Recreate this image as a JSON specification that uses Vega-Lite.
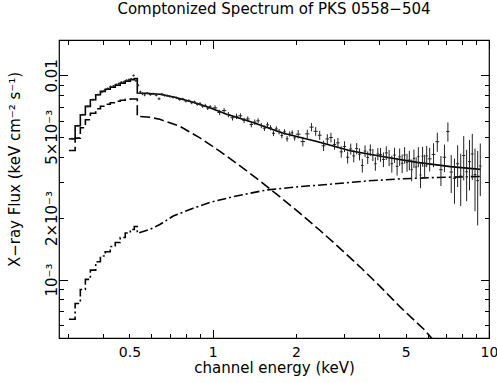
{
  "$schema": "https://vega.github.io/schema/vega-lite/v6.json",
  "width": 430,
  "height": 298,
  "autosize": {"type": "none"},
  "padding": {"left": 59, "top": 40, "right": 8, "bottom": 45},
  "title": {"text": "Comptonized Spectrum of PKS 0558−504", "font": "DejaVu Sans", "fontSize": 15, "fontWeight": "normal", "color": "black", "frame": "group", "anchor": "middle", "baseline": "alphabetic", "offset": 11},
  "config": {
    "view": {"stroke": "black", "strokeWidth": 1.2},
    "axis": {"domain": false, "grid": false, "labelFont": "DejaVu Sans", "titleFont": "DejaVu Sans", "labelFontSize": 14, "titleFontSize": 15, "labelColor": "black", "titleColor": "black", "titleFontWeight": "normal", "tickColor": "black", "tickWidth": 1}
  },
  "datasets": {
    "model": [
      {"comp": "total", "e": 0.302, "f": 0.00489}, {"comp": "total", "e": 0.318, "f": 0.00489}, {"comp": "total", "e": 0.318, "f": 0.00566}, {"comp": "total", "e": 0.3321, "f": 0.00566},
      {"comp": "total", "e": 0.3321, "f": 0.00641}, {"comp": "total", "e": 0.3463, "f": 0.00641}, {"comp": "total", "e": 0.3463, "f": 0.007045}, {"comp": "total", "e": 0.361, "f": 0.007045},
      {"comp": "total", "e": 0.361, "f": 0.0076}, {"comp": "total", "e": 0.3775, "f": 0.0076}, {"comp": "total", "e": 0.3775, "f": 0.00804}, {"comp": "total", "e": 0.3925, "f": 0.00804},
      {"comp": "total", "e": 0.3925, "f": 0.00835}, {"comp": "total", "e": 0.4086, "f": 0.00835}, {"comp": "total", "e": 0.4086, "f": 0.008556}, {"comp": "total", "e": 0.4261, "f": 0.008556},
      {"comp": "total", "e": 0.4261, "f": 0.008751}, {"comp": "total", "e": 0.4442, "f": 0.008751}, {"comp": "total", "e": 0.4442, "f": 0.008951}, {"comp": "total", "e": 0.463, "f": 0.008951},
      {"comp": "total", "e": 0.463, "f": 0.009156}, {"comp": "total", "e": 0.4828, "f": 0.009156}, {"comp": "total", "e": 0.4828, "f": 0.009365}, {"comp": "total", "e": 0.5035, "f": 0.009365},
      {"comp": "total", "e": 0.5035, "f": 0.009526}, {"comp": "total", "e": 0.5206, "f": 0.009526}, {"comp": "total", "e": 0.5206, "f": 0.009634}, {"comp": "total", "e": 0.5337, "f": 0.009634},
      {"comp": "total", "e": 0.5337, "f": 0.008195}, {"comp": "total", "e": 0.568, "f": 0.008176}, {"comp": "total", "e": 0.6439, "f": 0.008084}, {"comp": "total", "e": 0.7303, "f": 0.007816},
      {"comp": "total", "e": 0.8505, "f": 0.007385}, {"comp": "total", "e": 0.9777, "f": 0.006942}, {"comp": "total", "e": 1.124, "f": 0.006449}, {"comp": "total", "e": 1.365, "f": 0.005942},
      {"comp": "total", "e": 1.803, "f": 0.0052}, {"comp": "total", "e": 2.383, "f": 0.004742}, {"comp": "total", "e": 3.147, "f": 0.004269}, {"comp": "total", "e": 4.155, "f": 0.00399},
      {"comp": "total", "e": 5.492, "f": 0.003749}, {"comp": "total", "e": 7.252, "f": 0.003574}, {"comp": "total", "e": 9.316, "f": 0.003462},

      {"comp": "soft", "e": 0.302, "f": 0.004282}, {"comp": "soft", "e": 0.318, "f": 0.004282}, {"comp": "soft", "e": 0.318, "f": 0.004927}, {"comp": "soft", "e": 0.3321, "f": 0.004927},
      {"comp": "soft", "e": 0.3321, "f": 0.005537}, {"comp": "soft", "e": 0.3463, "f": 0.005537}, {"comp": "soft", "e": 0.3463, "f": 0.00606}, {"comp": "soft", "e": 0.361, "f": 0.00606},
      {"comp": "soft", "e": 0.361, "f": 0.006523}, {"comp": "soft", "e": 0.3775, "f": 0.006523}, {"comp": "soft", "e": 0.3775, "f": 0.006864}, {"comp": "soft", "e": 0.3925, "f": 0.006864},
      {"comp": "soft", "e": 0.3925, "f": 0.00706}, {"comp": "soft", "e": 0.4086, "f": 0.00706}, {"comp": "soft", "e": 0.4086, "f": 0.007221}, {"comp": "soft", "e": 0.4261, "f": 0.007221},
      {"comp": "soft", "e": 0.4261, "f": 0.007345}, {"comp": "soft", "e": 0.4442, "f": 0.007345}, {"comp": "soft", "e": 0.4442, "f": 0.00747}, {"comp": "soft", "e": 0.463, "f": 0.00747},
      {"comp": "soft", "e": 0.463, "f": 0.007555}, {"comp": "soft", "e": 0.4828, "f": 0.007555}, {"comp": "soft", "e": 0.4828, "f": 0.007641}, {"comp": "soft", "e": 0.5035, "f": 0.007641},
      {"comp": "soft", "e": 0.5035, "f": 0.007655}, {"comp": "soft", "e": 0.5337, "f": 0.007655}, {"comp": "soft", "e": 0.5337, "f": 0.006303}, {"comp": "soft", "e": 0.5925, "f": 0.006233},
      {"comp": "soft", "e": 0.6439, "f": 0.006095}, {"comp": "soft", "e": 0.761, "f": 0.00563}, {"comp": "soft", "e": 0.8994, "f": 0.004944}, {"comp": "soft", "e": 1.0628, "f": 0.004245},
      {"comp": "soft", "e": 1.2559, "f": 0.003603}, {"comp": "soft", "e": 1.4841, "f": 0.00304}, {"comp": "soft", "e": 1.7539, "f": 0.002538}, {"comp": "soft", "e": 2.0727, "f": 0.002106},
      {"comp": "soft", "e": 2.449, "f": 0.001738}, {"comp": "soft", "e": 2.894, "f": 0.001418}, {"comp": "soft", "e": 3.42, "f": 0.001151}, {"comp": "soft", "e": 4.042, "f": 0.000923},
      {"comp": "soft", "e": 4.777, "f": 0.000732}, {"comp": "soft", "e": 5.812, "f": 0.000571}, {"comp": "soft", "e": 6.868, "f": 0.00044},

      {"comp": "hard", "e": 0.302, "f": 0.000639}, {"comp": "hard", "e": 0.318, "f": 0.000639}, {"comp": "hard", "e": 0.318, "f": 0.0007634}, {"comp": "hard", "e": 0.3321, "f": 0.0007634},
      {"comp": "hard", "e": 0.3321, "f": 0.000894}, {"comp": "hard", "e": 0.3463, "f": 0.000894}, {"comp": "hard", "e": 0.3463, "f": 0.001001}, {"comp": "hard", "e": 0.361, "f": 0.001001},
      {"comp": "hard", "e": 0.361, "f": 0.001112}, {"comp": "hard", "e": 0.3775, "f": 0.001112}, {"comp": "hard", "e": 0.3775, "f": 0.001221}, {"comp": "hard", "e": 0.3925, "f": 0.001221},
      {"comp": "hard", "e": 0.3925, "f": 0.001303}, {"comp": "hard", "e": 0.4086, "f": 0.001303}, {"comp": "hard", "e": 0.4086, "f": 0.001368}, {"comp": "hard", "e": 0.4261, "f": 0.001368},
      {"comp": "hard", "e": 0.4261, "f": 0.00145}, {"comp": "hard", "e": 0.4442, "f": 0.00145}, {"comp": "hard", "e": 0.4442, "f": 0.001517}, {"comp": "hard", "e": 0.463, "f": 0.001517},
      {"comp": "hard", "e": 0.463, "f": 0.001605}, {"comp": "hard", "e": 0.4828, "f": 0.001605}, {"comp": "hard", "e": 0.4828, "f": 0.001689}, {"comp": "hard", "e": 0.5035, "f": 0.001689},
      {"comp": "hard", "e": 0.5035, "f": 0.001758}, {"comp": "hard", "e": 0.5206, "f": 0.001758}, {"comp": "hard", "e": 0.5206, "f": 0.001819}, {"comp": "hard", "e": 0.5337, "f": 0.001819},
      {"comp": "hard", "e": 0.5337, "f": 0.001683}, {"comp": "hard", "e": 0.5925, "f": 0.001758}, {"comp": "hard", "e": 0.6439, "f": 0.00186}, {"comp": "hard", "e": 0.72, "f": 0.002047},
      {"comp": "hard", "e": 0.8505, "f": 0.002234}, {"comp": "hard", "e": 0.9777, "f": 0.002385}, {"comp": "hard", "e": 1.188, "f": 0.002547}, {"comp": "hard", "e": 1.57, "f": 0.002747},
      {"comp": "hard", "e": 2.073, "f": 0.002851}, {"comp": "hard", "e": 2.737, "f": 0.002938}, {"comp": "hard", "e": 3.618, "f": 0.00304}, {"comp": "hard", "e": 4.777, "f": 0.003111},
      {"comp": "hard", "e": 6.306, "f": 0.003157}, {"comp": "hard", "e": 9.316, "f": 0.003199}
    ],
    "obs": [
      {"e": 0.31, "e1": 0.302, "e2": 0.318, "f": 0.00489, "f1": 0.00483, "f2": 0.00495},
      {"e": 0.325, "e1": 0.318, "e2": 0.3321, "f": 0.00566, "f1": 0.00559, "f2": 0.00573},
      {"e": 0.339, "e1": 0.3321, "e2": 0.3463, "f": 0.00641, "f1": 0.00633, "f2": 0.00649},
      {"e": 0.3537, "e1": 0.3463, "e2": 0.361, "f": 0.00705, "f1": 0.00696, "f2": 0.00714},
      {"e": 0.3693, "e1": 0.361, "e2": 0.3775, "f": 0.0076, "f1": 0.0075, "f2": 0.0077},
      {"e": 0.385, "e1": 0.3775, "e2": 0.3925, "f": 0.00804, "f1": 0.00794, "f2": 0.00814},
      {"e": 0.3975, "e1": 0.3925, "e2": 0.4025, "f": 0.0083, "f1": 0.00818, "f2": 0.00842},
      {"e": 0.4075, "e1": 0.4025, "e2": 0.4125, "f": 0.00845, "f1": 0.00833, "f2": 0.00857},
      {"e": 0.4175, "e1": 0.4125, "e2": 0.4225, "f": 0.00862, "f1": 0.0085, "f2": 0.00874},
      {"e": 0.4275, "e1": 0.4225, "e2": 0.4325, "f": 0.0088, "f1": 0.00868, "f2": 0.00892},
      {"e": 0.4375, "e1": 0.4325, "e2": 0.4425, "f": 0.00886, "f1": 0.00874, "f2": 0.00898},
      {"e": 0.4475, "e1": 0.4425, "e2": 0.4525, "f": 0.00902, "f1": 0.0089, "f2": 0.00914},
      {"e": 0.4575, "e1": 0.4525, "e2": 0.4625, "f": 0.0091, "f1": 0.00898, "f2": 0.00922},
      {"e": 0.4675, "e1": 0.4625, "e2": 0.4725, "f": 0.00925, "f1": 0.00913, "f2": 0.00937},
      {"e": 0.4775, "e1": 0.4725, "e2": 0.4825, "f": 0.0093, "f1": 0.00918, "f2": 0.00942},
      {"e": 0.4875, "e1": 0.4825, "e2": 0.4925, "f": 0.00945, "f1": 0.00933, "f2": 0.00957},
      {"e": 0.4975, "e1": 0.4925, "e2": 0.5025, "f": 0.00952, "f1": 0.0094, "f2": 0.00964},
      {"e": 0.5075, "e1": 0.5025, "e2": 0.5125, "f": 0.0096, "f1": 0.00948, "f2": 0.00972},
      {"e": 0.5175, "e1": 0.5125, "e2": 0.5225, "f": 0.00998, "f1": 0.00986, "f2": 0.0101},
      {"e": 0.5275, "e1": 0.5225, "e2": 0.5325, "f": 0.0094, "f1": 0.00928, "f2": 0.00952},
      {"e": 0.5375, "e1": 0.5325, "e2": 0.5425, "f": 0.00895, "f1": 0.00883, "f2": 0.00907},
      {"e": 0.5475, "e1": 0.5425, "e2": 0.5525, "f": 0.0083, "f1": 0.00818, "f2": 0.00842},
      {"e": 0.5575, "e1": 0.5525, "e2": 0.5625, "f": 0.00812, "f1": 0.008, "f2": 0.00824},
      {"e": 0.5675, "e1": 0.5625, "e2": 0.5725, "f": 0.00802, "f1": 0.0079, "f2": 0.00814},
      {"e": 0.58, "e1": 0.5725, "e2": 0.5875, "f": 0.00818, "f1": 0.00807, "f2": 0.00829},
      {"e": 0.595, "e1": 0.5875, "e2": 0.6025, "f": 0.00805, "f1": 0.00794, "f2": 0.00816},
      {"e": 0.61, "e1": 0.6025, "e2": 0.6175, "f": 0.00812, "f1": 0.00801, "f2": 0.00823},
      {"e": 0.625, "e1": 0.6175, "e2": 0.6325, "f": 0.008, "f1": 0.00789, "f2": 0.00811},
      {"e": 0.64, "e1": 0.6325, "e2": 0.6475, "f": 0.00768, "f1": 0.00757, "f2": 0.00779},
      {"e": 0.655, "e1": 0.6475, "e2": 0.6625, "f": 0.0081, "f1": 0.00799, "f2": 0.00821},
      {"e": 0.67, "e1": 0.6625, "e2": 0.6775, "f": 0.00798, "f1": 0.00787, "f2": 0.00809},
      {"e": 0.685, "e1": 0.6775, "e2": 0.6925, "f": 0.00795, "f1": 0.00784, "f2": 0.00806},
      {"e": 0.7, "e1": 0.6925, "e2": 0.71, "f": 0.00788, "f1": 0.00777, "f2": 0.00799},
      {"e": 0.72, "e1": 0.71, "e2": 0.73, "f": 0.00782, "f1": 0.00771, "f2": 0.00793},
      {"e": 0.74, "e1": 0.73, "e2": 0.75, "f": 0.00776, "f1": 0.00765, "f2": 0.00787},
      {"e": 0.76, "e1": 0.75, "e2": 0.77, "f": 0.00762, "f1": 0.00751, "f2": 0.00773},
      {"e": 0.78, "e1": 0.77, "e2": 0.79, "f": 0.00766, "f1": 0.00755, "f2": 0.00777},
      {"e": 0.8, "e1": 0.79, "e2": 0.81, "f": 0.00748, "f1": 0.00736, "f2": 0.0076},
      {"e": 0.82, "e1": 0.81, "e2": 0.83, "f": 0.00752, "f1": 0.0074, "f2": 0.00764},
      {"e": 0.84, "e1": 0.83, "e2": 0.85, "f": 0.00734, "f1": 0.00722, "f2": 0.00746},
      {"e": 0.86, "e1": 0.85, "e2": 0.87, "f": 0.0074, "f1": 0.00728, "f2": 0.00752},
      {"e": 0.88, "e1": 0.87, "e2": 0.89, "f": 0.00722, "f1": 0.0071, "f2": 0.00734},
      {"e": 0.9, "e1": 0.89, "e2": 0.91, "f": 0.00726, "f1": 0.00713, "f2": 0.00739},
      {"e": 0.92, "e1": 0.91, "e2": 0.93, "f": 0.00706, "f1": 0.00693, "f2": 0.00719},
      {"e": 0.94, "e1": 0.93, "e2": 0.95, "f": 0.00712, "f1": 0.00699, "f2": 0.00725},
      {"e": 0.96, "e1": 0.95, "e2": 0.97, "f": 0.0069, "f1": 0.00676, "f2": 0.00704},
      {"e": 0.98, "e1": 0.97, "e2": 0.99, "f": 0.00702, "f1": 0.00688, "f2": 0.00716},
      {"e": 1.02, "e1": 1.0, "e2": 1.04, "f": 0.00693, "f1": 0.00673, "f2": 0.00713},
      {"e": 1.06, "e1": 1.04, "e2": 1.08, "f": 0.00658, "f1": 0.00638, "f2": 0.00678},
      {"e": 1.1, "e1": 1.08, "e2": 1.12, "f": 0.00672, "f1": 0.00652, "f2": 0.00692},
      {"e": 1.14, "e1": 1.12, "e2": 1.16, "f": 0.00642, "f1": 0.00623, "f2": 0.00661},
      {"e": 1.18, "e1": 1.16, "e2": 1.2, "f": 0.0062, "f1": 0.00601, "f2": 0.00639},
      {"e": 1.22, "e1": 1.2, "e2": 1.24, "f": 0.0063, "f1": 0.00611, "f2": 0.00649},
      {"e": 1.26, "e1": 1.24, "e2": 1.28, "f": 0.00634, "f1": 0.00616, "f2": 0.00652},
      {"e": 1.3, "e1": 1.28, "e2": 1.32, "f": 0.00602, "f1": 0.00584, "f2": 0.0062},
      {"e": 1.34, "e1": 1.32, "e2": 1.36, "f": 0.00612, "f1": 0.00594, "f2": 0.0063},
      {"e": 1.38, "e1": 1.36, "e2": 1.4, "f": 0.00574, "f1": 0.00556, "f2": 0.00592},
      {"e": 1.42, "e1": 1.4, "e2": 1.44, "f": 0.0059, "f1": 0.00572, "f2": 0.00608},
      {"e": 1.46, "e1": 1.44, "e2": 1.48, "f": 0.00599, "f1": 0.00582, "f2": 0.00616},
      {"e": 1.5, "e1": 1.48, "e2": 1.52, "f": 0.00568, "f1": 0.00551, "f2": 0.00585},
      {"e": 1.54, "e1": 1.52, "e2": 1.56, "f": 0.00551, "f1": 0.00534, "f2": 0.00568},
      {"e": 1.58, "e1": 1.56, "e2": 1.6, "f": 0.00572, "f1": 0.00555, "f2": 0.00589},
      {"e": 1.62, "e1": 1.6, "e2": 1.64, "f": 0.00554, "f1": 0.00538, "f2": 0.0057},
      {"e": 1.66, "e1": 1.64, "e2": 1.68, "f": 0.0052, "f1": 0.00504, "f2": 0.00536},
      {"e": 1.7, "e1": 1.68, "e2": 1.72, "f": 0.00547, "f1": 0.00531, "f2": 0.00563},
      {"e": 1.74, "e1": 1.72, "e2": 1.76, "f": 0.0053, "f1": 0.00514, "f2": 0.00546},
      {"e": 1.78, "e1": 1.76, "e2": 1.8, "f": 0.00508, "f1": 0.00492, "f2": 0.00524},
      {"e": 1.82, "e1": 1.8, "e2": 1.84, "f": 0.00529, "f1": 0.00513, "f2": 0.00545},
      {"e": 1.86, "e1": 1.84, "e2": 1.88, "f": 0.00489, "f1": 0.00474, "f2": 0.00504},
      {"e": 1.9, "e1": 1.88, "e2": 1.92, "f": 0.00516, "f1": 0.00501, "f2": 0.00531},
      {"e": 1.94, "e1": 1.92, "e2": 1.96, "f": 0.00523, "f1": 0.00508, "f2": 0.00538},
      {"e": 1.98, "e1": 1.96, "e2": 2.0, "f": 0.00494, "f1": 0.00479, "f2": 0.00509},
      {"e": 2.04, "e1": 2.0, "e2": 2.08, "f": 0.00515, "f1": 0.0049, "f2": 0.0054},
      {"e": 2.12, "e1": 2.08, "e2": 2.16, "f": 0.00474, "f1": 0.00449, "f2": 0.00499},
      {"e": 2.2, "e1": 2.16, "e2": 2.24, "f": 0.00517, "f1": 0.00492, "f2": 0.00542},
      {"e": 2.28, "e1": 2.24, "e2": 2.32, "f": 0.00558, "f1": 0.00532, "f2": 0.00584},
      {"e": 2.36, "e1": 2.32, "e2": 2.4, "f": 0.00532, "f1": 0.00506, "f2": 0.00558},
      {"e": 2.44, "e1": 2.4, "e2": 2.48, "f": 0.00509, "f1": 0.00483, "f2": 0.00535},
      {"e": 2.52, "e1": 2.48, "e2": 2.56, "f": 0.00452, "f1": 0.00426, "f2": 0.00478},
      {"e": 2.6, "e1": 2.56, "e2": 2.64, "f": 0.00488, "f1": 0.00461, "f2": 0.00515},
      {"e": 2.68, "e1": 2.64, "e2": 2.72, "f": 0.00496, "f1": 0.00469, "f2": 0.00523},
      {"e": 2.76, "e1": 2.72, "e2": 2.8, "f": 0.00459, "f1": 0.00432, "f2": 0.00486},
      {"e": 2.84, "e1": 2.8, "e2": 2.88, "f": 0.00467, "f1": 0.0044, "f2": 0.00494},
      {"e": 2.92, "e1": 2.88, "e2": 2.96, "f": 0.00422, "f1": 0.00395, "f2": 0.00449},
      {"e": 3.0, "e1": 2.96, "e2": 3.04, "f": 0.00448, "f1": 0.00421, "f2": 0.00475},
      {"e": 3.08, "e1": 3.04, "e2": 3.12, "f": 0.00397, "f1": 0.0037, "f2": 0.00424},
      {"e": 3.16, "e1": 3.12, "e2": 3.2, "f": 0.00436, "f1": 0.00409, "f2": 0.00463},
      {"e": 3.24, "e1": 3.2, "e2": 3.28, "f": 0.00403, "f1": 0.00375, "f2": 0.00431},
      {"e": 3.32, "e1": 3.28, "e2": 3.36, "f": 0.00438, "f1": 0.0041, "f2": 0.00466},
      {"e": 3.4, "e1": 3.36, "e2": 3.44, "f": 0.00411, "f1": 0.00383, "f2": 0.00439},
      {"e": 3.48, "e1": 3.44, "e2": 3.52, "f": 0.00362, "f1": 0.00334, "f2": 0.0039},
      {"e": 3.56, "e1": 3.52, "e2": 3.6, "f": 0.00426, "f1": 0.00398, "f2": 0.00454},
      {"e": 3.64, "e1": 3.6, "e2": 3.68, "f": 0.00396, "f1": 0.00368, "f2": 0.00424},
      {"e": 3.72, "e1": 3.68, "e2": 3.76, "f": 0.00431, "f1": 0.00403, "f2": 0.00459},
      {"e": 3.8, "e1": 3.76, "e2": 3.84, "f": 0.00408, "f1": 0.0038, "f2": 0.00436},
      {"e": 3.88, "e1": 3.84, "e2": 3.92, "f": 0.00369, "f1": 0.00341, "f2": 0.00397},
      {"e": 3.96, "e1": 3.92, "e2": 4.0, "f": 0.00412, "f1": 0.00384, "f2": 0.0044},
      {"e": 4.05, "e1": 4.0, "e2": 4.1, "f": 0.00409, "f1": 0.00377, "f2": 0.00441},
      {"e": 4.15, "e1": 4.1, "e2": 4.2, "f": 0.00387, "f1": 0.00355, "f2": 0.00419},
      {"e": 4.25, "e1": 4.2, "e2": 4.3, "f": 0.00417, "f1": 0.00385, "f2": 0.00449},
      {"e": 4.35, "e1": 4.3, "e2": 4.4, "f": 0.00395, "f1": 0.00359, "f2": 0.00431},
      {"e": 4.45, "e1": 4.4, "e2": 4.5, "f": 0.00369, "f1": 0.00334, "f2": 0.00404},
      {"e": 4.55, "e1": 4.5, "e2": 4.6, "f": 0.00407, "f1": 0.00372, "f2": 0.00442},
      {"e": 4.65, "e1": 4.6, "e2": 4.7, "f": 0.00358, "f1": 0.00323, "f2": 0.00393},
      {"e": 4.75, "e1": 4.7, "e2": 4.8, "f": 0.00399, "f1": 0.0036, "f2": 0.00438},
      {"e": 4.85, "e1": 4.8, "e2": 4.9, "f": 0.00371, "f1": 0.00332, "f2": 0.0041},
      {"e": 4.95, "e1": 4.9, "e2": 5.0, "f": 0.00407, "f1": 0.00369, "f2": 0.00445},
      {"e": 5.05, "e1": 5.0, "e2": 5.1, "f": 0.00375, "f1": 0.00337, "f2": 0.00413},
      {"e": 5.15, "e1": 5.1, "e2": 5.2, "f": 0.00385, "f1": 0.00343, "f2": 0.00427},
      {"e": 5.25, "e1": 5.2, "e2": 5.3, "f": 0.00345, "f1": 0.00303, "f2": 0.00387},
      {"e": 5.35, "e1": 5.3, "e2": 5.4, "f": 0.00392, "f1": 0.00351, "f2": 0.00433},
      {"e": 5.45, "e1": 5.4, "e2": 5.5, "f": 0.00356, "f1": 0.00315, "f2": 0.00397},
      {"e": 5.55, "e1": 5.5, "e2": 5.6, "f": 0.004, "f1": 0.00355, "f2": 0.00445},
      {"e": 5.65, "e1": 5.6, "e2": 5.7, "f": 0.00325, "f1": 0.0028, "f2": 0.0037},
      {"e": 5.75, "e1": 5.7, "e2": 5.8, "f": 0.00402, "f1": 0.00357, "f2": 0.00447},
      {"e": 5.85, "e1": 5.8, "e2": 5.9, "f": 0.0036, "f1": 0.00312, "f2": 0.00408},
      {"e": 5.95, "e1": 5.9, "e2": 6.0, "f": 0.00403, "f1": 0.00355, "f2": 0.00451},
      {"e": 6.1, "e1": 6.0, "e2": 6.2, "f": 0.0039, "f1": 0.00338, "f2": 0.00442},
      {"e": 6.3, "e1": 6.2, "e2": 6.4, "f": 0.0041, "f1": 0.00355, "f2": 0.00465},
      {"e": 6.5, "e1": 6.4, "e2": 6.6, "f": 0.00473, "f1": 0.00422, "f2": 0.00524},
      {"e": 6.7, "e1": 6.6, "e2": 6.8, "f": 0.00345, "f1": 0.00287, "f2": 0.00403},
      {"e": 6.9, "e1": 6.8, "e2": 7.0, "f": 0.00397, "f1": 0.00336, "f2": 0.00458},
      {"e": 7.1, "e1": 7.0, "e2": 7.2, "f": 0.00531, "f1": 0.00474, "f2": 0.00588},
      {"e": 7.3, "e1": 7.2, "e2": 7.4, "f": 0.00336, "f1": 0.00265, "f2": 0.00407},
      {"e": 7.5, "e1": 7.4, "e2": 7.6, "f": 0.00313, "f1": 0.00235, "f2": 0.00391},
      {"e": 7.7, "e1": 7.6, "e2": 7.8, "f": 0.00369, "f1": 0.00284, "f2": 0.00454},
      {"e": 7.9, "e1": 7.8, "e2": 8.0, "f": 0.00321, "f1": 0.00229, "f2": 0.00413},
      {"e": 8.1, "e1": 8.0, "e2": 8.2, "f": 0.00405, "f1": 0.00306, "f2": 0.00504},
      {"e": 8.3, "e1": 8.2, "e2": 8.4, "f": 0.00337, "f1": 0.00242, "f2": 0.00432},
      {"e": 8.5, "e1": 8.4, "e2": 8.6, "f": 0.00378, "f1": 0.00273, "f2": 0.00483},
      {"e": 8.7, "e1": 8.6, "e2": 8.8, "f": 0.00412, "f1": 0.00307, "f2": 0.00517},
      {"e": 8.9, "e1": 8.8, "e2": 9.0, "f": 0.00327, "f1": 0.00216, "f2": 0.00438},
      {"e": 9.1, "e1": 9.0, "e2": 9.2, "f": 0.00305, "f1": 0.00184, "f2": 0.00426},
      {"e": 9.3, "e1": 9.2, "e2": 9.4, "f": 0.0036, "f1": 0.00256, "f2": 0.00464}
    ]
  },
  "layer": [
    {
      "data": {"name": "model"},
      "transform": [{"filter": "datum.comp === 'hard'"}],
      "mark": {"type": "line", "color": "black", "strokeWidth": 1.6, "strokeDash": [9, 3, 2, 3], "clip": true},
      "encoding": {
        "x": {"field": "e", "type": "quantitative", "scale": {"type": "log", "domain": [0.278, 10], "nice": false},
              "axis": {"orient": "bottom", "values": [0.5, 1, 2, 5, 10], "format": "~g", "ticks": false, "labelPadding": 7, "labelFlush": false, "labelOverlap": false, "title": "channel energy (keV)", "titleY": 34, "titleBaseline": "alphabetic"}},
        "y": {"field": "f", "type": "quantitative", "scale": {"type": "log", "domain": [0.000517, 0.0149], "nice": false},
              "axis": {"orient": "left", "values": [0.001, 0.002, 0.005, 0.01], "ticks": false, "labelExpr": "datum.value > 0.007 ? '0.01' : datum.value > 0.003 ? '5×10⁻³' : datum.value > 0.0015 ? '2×10⁻³' : '10⁻³'", "labelFontSize": 15, "labelAngle": -90, "labelAlign": "center", "labelBaseline": "alphabetic", "labelPadding": 3, "labelFlush": false, "labelOverlap": false, "title": "X−ray Flux (keV cm⁻² s⁻¹)", "titleX": -40, "titleY": 129, "titleAngle": -90, "titleAlign": "center", "titleBaseline": "alphabetic"}},
        "order": {"value": null}
      }
    },
    {
      "data": {"name": "model"},
      "transform": [{"filter": "datum.comp === 'soft'"}],
      "mark": {"type": "line", "color": "black", "strokeWidth": 1.6, "strokeDash": [10, 4], "clip": true},
      "encoding": {
        "x": {"field": "e", "type": "quantitative", "scale": {"type": "log", "domain": [0.278, 10], "nice": false},
              "axis": {"orient": "bottom", "values": [1, 10], "tickSize": -8.5, "labels": false, "title": null}},
        "y": {"field": "f", "type": "quantitative", "scale": {"type": "log", "domain": [0.000517, 0.0149], "nice": false},
              "axis": {"orient": "left", "values": [0.001, 0.01], "tickSize": -8.5, "labels": false, "title": null}},
        "order": {"value": null}
      }
    },
    {
      "data": {"name": "model"},
      "transform": [{"filter": "datum.comp === 'total'"}],
      "mark": {"type": "line", "color": "black", "strokeWidth": 1.6, "clip": true},
      "encoding": {
        "x": {"field": "e", "type": "quantitative", "scale": {"type": "log", "domain": [0.278, 10], "nice": false},
              "axis": {"orient": "bottom", "values": [0.3, 0.4, 0.5, 0.6, 0.7, 0.8, 0.9, 2, 3, 4, 5, 6, 7, 8, 9], "tickSize": -4.5, "labels": false, "title": null}},
        "y": {"field": "f", "type": "quantitative", "scale": {"type": "log", "domain": [0.000517, 0.0149], "nice": false},
              "axis": {"orient": "left", "values": [0.0006, 0.0007, 0.0008, 0.0009, 0.002, 0.003, 0.004, 0.005, 0.006, 0.007, 0.008, 0.009], "tickSize": -4.5, "labels": false, "title": null}},
        "order": {"value": null}
      }
    },
    {
      "data": {"name": "obs"},
      "mark": {"type": "rule", "color": "#222", "strokeWidth": 1},
      "encoding": {
        "x": {"field": "e1", "type": "quantitative", "scale": {"type": "log", "domain": [0.278, 10], "nice": false},
              "axis": {"orient": "top", "values": [1, 10], "tickSize": -8.5, "labels": false, "title": null}},
        "x2": {"field": "e2"},
        "y": {"field": "f", "type": "quantitative", "scale": {"type": "log", "domain": [0.000517, 0.0149], "nice": false},
              "axis": {"orient": "right", "values": [0.001, 0.01], "tickSize": -8.5, "labels": false, "title": null}}
      }
    },
    {
      "data": {"name": "obs"},
      "mark": {"type": "rule", "color": "#222", "strokeWidth": 1},
      "encoding": {
        "x": {"field": "e", "type": "quantitative", "scale": {"type": "log", "domain": [0.278, 10], "nice": false},
              "axis": {"orient": "top", "values": [0.3, 0.4, 0.5, 0.6, 0.7, 0.8, 0.9, 2, 3, 4, 5, 6, 7, 8, 9], "tickSize": -4.5, "labels": false, "title": null}},
        "y": {"field": "f1", "type": "quantitative", "scale": {"type": "log", "domain": [0.000517, 0.0149], "nice": false},
              "axis": {"orient": "right", "values": [0.0006, 0.0007, 0.0008, 0.0009, 0.002, 0.003, 0.004, 0.005, 0.006, 0.007, 0.008, 0.009], "tickSize": -4.5, "labels": false, "title": null}},
        "y2": {"field": "f2"}
      }
    }
  ],
  "resolve": {"axis": {"x": "independent", "y": "independent"}}
}
